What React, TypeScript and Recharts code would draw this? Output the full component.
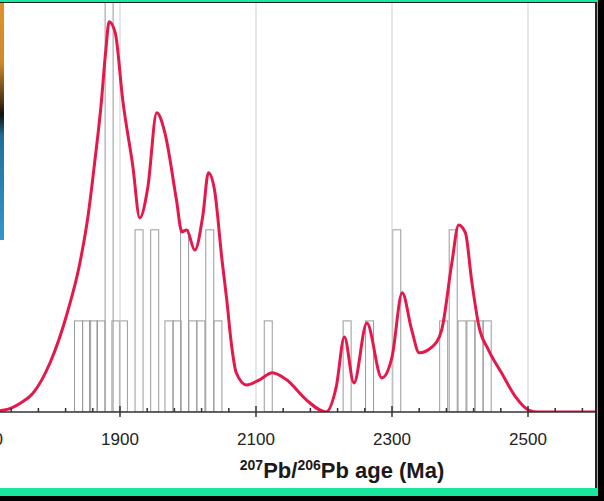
import React from 'react';
import { ComposedChart, Bar, Line, XAxis, YAxis, ReferenceLine } from 'recharts';

// Probability density curve (relative)
const CURVE_AGES = [
  1700, 1730, 1754, 1772, 1797, 1822, 1841, 1853, 1863, 1872, 1879, 1884, 1893, 1904, 1919, 1929,
  1941, 1954, 1966, 1983, 1991, 1998, 2010, 2022, 2030, 2039, 2050, 2057, 2064, 2071, 2086,
  2105, 2124, 2145, 2174, 2203, 2218, 2230, 2244, 2263, 2285, 2300, 2315, 2329, 2340, 2359,
  2373, 2388, 2398, 2408, 2417, 2428, 2442, 2461, 2482, 2501, 2515, 2600,
];
const CURVE_PROB = [
  0, 0.005, 0.023, 0.048, 0.125, 0.25, 0.38, 0.5, 0.64, 0.78, 0.92, 0.995, 0.967, 0.796, 0.625, 0.495,
  0.574, 0.763, 0.712, 0.541, 0.459, 0.464, 0.413, 0.503, 0.61, 0.566, 0.388, 0.286, 0.171, 0.1, 0.069,
  0.082, 0.1, 0.082, 0.031, 0, 0.064, 0.191, 0.074, 0.227, 0.087, 0.14, 0.304, 0.209, 0.151, 0.166,
  0.209, 0.38, 0.477, 0.457, 0.337, 0.217, 0.158, 0.1, 0.038, 0.005, 0, 0,
];

// Histogram bins (centre age, count)
const BIN_AGES = [
  1839, 1851, 1861, 1872, 1884, 1894, 1905, 1928, 1951, 1972, 1984, 1995, 2007, 2019, 2032, 2044,
  2118, 2234, 2267, 2307, 2376, 2390, 2403, 2416, 2428, 2440,
];
const BIN_COUNTS = [
  1, 1, 1, 1, 5, 1, 1, 2, 2, 1, 1, 2, 1, 1, 2, 1,
  1, 1, 1, 2, 1, 2, 1, 1, 1, 1,
];

const AXIS_TICKS = [
  1700, 1740, 1780, 1820, 1860, 1900, 1940, 1980, 2020, 2060, 2100, 2140, 2180, 2220, 2260,
  2300, 2340, 2380, 2420, 2460, 2500, 2540, 2580,
];
const MAJOR_TICKS = [1700, 1900, 2100, 2300, 2500];

const GREEN = '#17e89d';
const CURVE_RED = '#e5174b';
const FONT = '"Liberation Sans", Arial, sans-serif';
const BAR_PX = 8;

type Row = { age: number; prob?: number; count?: number };

function buildRows(): Row[] {
  const byAge = new Map<number, Row>();
  CURVE_AGES.forEach((age, i) => byAge.set(age, { age, prob: CURVE_PROB[i] }));
  BIN_AGES.forEach((age, i) => {
    const row = byAge.get(age) ?? { age };
    row.count = BIN_COUNTS[i];
    byAge.set(age, row);
  });
  return [...byAge.values()].sort((a, b) => a.age - b.age);
}

const rows = buildRows();

// outlined histogram bar, centred on the bin age
function BinShape(props: any) {
  const { x, y, width, height } = props;
  if (!height || height <= 0) return null;
  const cx = x + width / 2;
  return (
    <rect
      x={cx - BAR_PX / 2}
      y={y}
      width={BAR_PX}
      height={height}
      fill="none"
      stroke="#9a9a9a"
      strokeWidth={1}
    />
  );
}

function AgeTick(props: any) {
  const { x, y, payload } = props;
  const major = MAJOR_TICKS.includes(payload.value);
  return (
    <g>
      <line
        x1={x}
        x2={x}
        y1={major ? y - 6 : y - 4}
        y2={major ? y + 5 : y}
        stroke="#333"
        strokeWidth={1.5}
      />
      {major && (
        <text x={x} y={y + 33} textAnchor="middle" fontSize={17} fill="#222" fontFamily={FONT}>
          {payload.value}
        </text>
      )}
    </g>
  );
}

function AxisTitle(props: any) {
  const { viewBox } = props;
  const cx = viewBox.x + viewBox.width * 0.585;
  return (
    <text x={cx} y={478} textAnchor="middle" fontWeight="bold" fontSize={22} fill="#1a1a1a" fontFamily={FONT}>
      <tspan fontSize={14} dy={-8}>207</tspan>
      <tspan dy={8}>Pb/</tspan>
      <tspan fontSize={14} dy={-8}>206</tspan>
      <tspan dy={8}>Pb age (Ma)</tspan>
    </text>
  );
}

export default function App() {
  return (
    <div style={{ position: 'fixed', left: 0, top: 0, width: 604, height: 501, background: '#000', overflow: 'hidden' }}>
      <div style={{ position: 'absolute', left: 0, top: 0, width: 598, height: 496, background: GREEN }} />
      <div style={{ position: 'absolute', left: 0, top: 2, width: 597, height: 486, background: '#222' }} />
      <div style={{ position: 'absolute', left: 0, top: 3, width: 595, height: 485, background: '#fff', overflow: 'hidden' }}>
        <div style={{ position: 'absolute', left: -16, top: -3 }}>
          <ComposedChart width={612} height={488} data={rows} margin={{ top: 3, right: 0, bottom: 0, left: 0 }}>
            <XAxis
              dataKey="age"
              type="number"
              domain={[1700, 2600]}
              ticks={AXIS_TICKS}
              interval={0}
              tickSize={0}
              tickMargin={0}
              tickLine={false}
              tick={<AgeTick />}
              axisLine={{ stroke: '#333', strokeWidth: 1.5 }}
              height={76}
              label={{ content: <AxisTitle /> }}
            />
            <YAxis yAxisId="n" hide domain={[0, 4.49]} allowDataOverflow />
            <YAxis yAxisId="p" hide domain={[0, 1.043]} allowDataOverflow />
            {MAJOR_TICKS.map((t) => (
              <ReferenceLine key={t} yAxisId="n" x={t} stroke="#cfcfcf" strokeWidth={1} />
            ))}
            <Bar
              yAxisId="n"
              dataKey="count"
              shape={<BinShape />}
              isAnimationActive={false}
            />
            <Line
              yAxisId="p"
              dataKey="prob"
              type="monotone"
              stroke={CURVE_RED}
              strokeWidth={3}
              dot={false}
              connectNulls
              isAnimationActive={false}
            />
          </ComposedChart>
        </div>
      </div>
      <div
        style={{
          position: 'absolute',
          left: 0,
          top: 3,
          width: 4,
          height: 237,
          background:
            'linear-gradient(to bottom, #e0902a 0%, #d08a2a 25%, #4a3010 42%, #111 47%, #1f6f9a 56%, #3596cc 100%)',
        }}
      />
    </div>
  );
}
